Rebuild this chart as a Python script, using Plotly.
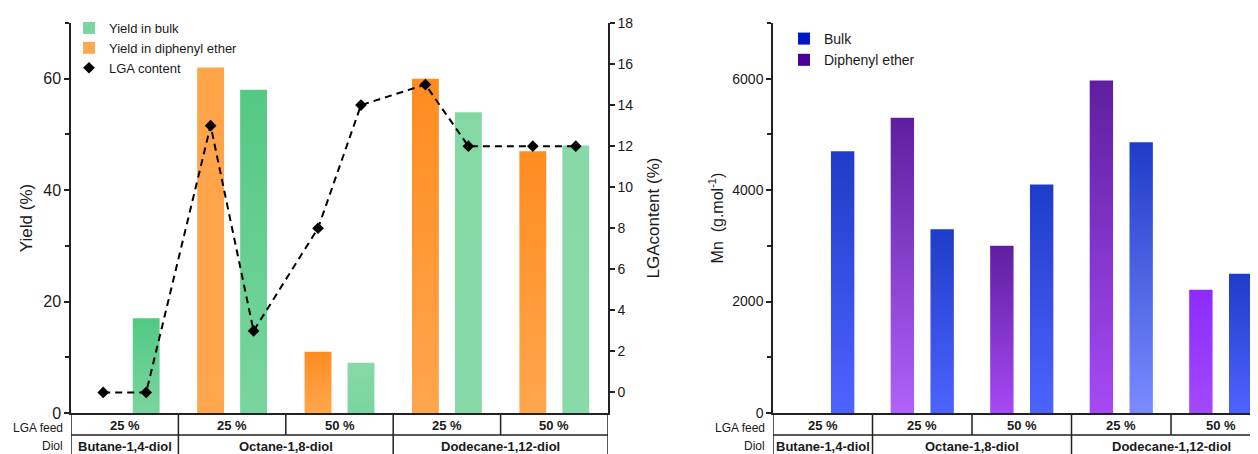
import plotly.graph_objects as go

# ---------------- data ----------------
lga_feed = ['25 %', '25 %', '50 %', '25 %', '50 %']
diols = ['Butane-1,4-diol', 'Octane-1,8-diol', 'Dodecane-1,12-diol']
diol_columns = [1, 2, 2]          # number of LGA-feed columns covered by each diol

yield_bulk = [17, 58, 9, 54, 48]
yield_diphenyl = [None, 62, 11, 60, 47]
# LGA content for each (diphenyl ether, bulk) pair of every column
lga_content = [0, 0, 13, 3, 8, 14, 15, 12, 12, 12]

mn_bulk = [4700, 3300, 4100, 4860, 2500]
mn_diphenyl = [None, 5300, 3000, 5970, 2210]

# ---------------- styles ----------------
FONT = 'Liberation Sans, Arial, sans-serif'
INK = '#1a1a1a'
LINE = '#222222'
PAGE_W, PAGE_H = 1258, 454
BODY = 8                               # browser body margin around the figure
W, H = PAGE_W - BODY, PAGE_H - BODY


def px(x):   # page pixel -> paper x
    return (x - BODY) / W


def py(y):   # page pixel -> paper y
    return (PAGE_H - y) / H


green_top = ['#52c983', '#53c983', '#86d9a6', '#84d8a4', '#87d9a7']
green_bot = ['#7ad59f', '#79d59e', '#7bd59f', '#86d9a6', '#88daa8']
orange_top = [None, '#ffa347', '#ff8c1f', '#ff8c1f', '#ff8c1f']
orange_bot = [None, '#ffa64e', '#ffa64d', '#ffa64d', '#ffa64d']
blue_top = ['#1f3cc8', '#1f3cc8', '#1f3cc8', '#1f3cc8', '#1f3cc8']
blue_bot = ['#4d63ff', '#4d63ff', '#4d63ff', '#7b8bff', '#4d63ff']
purple_top = [None, '#5e1f9e', '#5e1f9e', '#5e1f9e', '#8c2bff']
purple_bot = [None, '#b062f9', '#a649f5', '#a64af7', '#a448fd']

SLOT = 0.2          # offset of the two bars from the column centre
BAR_W_LEFT = 0.25
BAR_W_RIGHT = 0.235

X_L0, X_L1 = px(71), px(608)
X_R0, X_R1 = px(773), 1.0
Y0, Y1 = py(413), py(23)
Y_SEP = py(435)
Y_ROW1 = py(425)
Y_ROW2 = py(446)

fig = go.Figure()


def add_bars(values, offset, width, tops, bots, xa, ya, name):
    for i, v in enumerate(values):
        if v is None:
            continue
        c = i + offset
        x0, x1 = c - width / 2, c + width / 2
        fig.add_trace(go.Scatter(
            x=[x0, x0, x1, x1, x0], y=[0, v, v, 0, 0],
            mode='none', fill='toself', fillcolor=bots[i],
            fillgradient=dict(type='vertical', start=0, stop=v,
                              colorscale=[[0, bots[i]], [1, tops[i]]]),
            xaxis=xa, yaxis=ya, name=name, showlegend=False,
            hoveron='fills', hoverinfo='name'))


# legend entries (left chart)
fig.add_trace(go.Bar(x=[None], y=[None], name='Yield in bulk', marker_color='#79d69e',
                     xaxis='x', yaxis='y', legend='legend'))
fig.add_trace(go.Bar(x=[None], y=[None], name='Yield in diphenyl ether', marker_color='#ffa852',
                     xaxis='x', yaxis='y', legend='legend'))

add_bars(yield_diphenyl, -SLOT, BAR_W_LEFT, orange_top, orange_bot, 'x', 'y', 'Yield in diphenyl ether')
add_bars(yield_bulk, SLOT, BAR_W_LEFT, green_top, green_bot, 'x', 'y', 'Yield in bulk')

slot_x = [i + s for i in range(len(lga_feed)) for s in (-SLOT, SLOT)]
fig.add_trace(go.Scatter(x=slot_x, y=lga_content, mode='lines',
                         line=dict(color='black', width=2, dash='7px,5px'),
                         xaxis='x', yaxis='y2', showlegend=False, hoverinfo='skip'))
fig.add_trace(go.Scatter(x=slot_x, y=lga_content, mode='markers', name='LGA content',
                         marker=dict(symbol='diamond', size=9, color='black'),
                         xaxis='x', yaxis='y2', legend='legend'))

# right chart
fig.add_trace(go.Bar(x=[None], y=[None], name='Bulk', marker_color='#0019c4',
                     xaxis='x2', yaxis='y3', legend='legend2'))
fig.add_trace(go.Bar(x=[None], y=[None], name='Diphenyl ether', marker_color='#4b0096',
                     xaxis='x2', yaxis='y3', legend='legend2'))
add_bars(mn_diphenyl, -SLOT, BAR_W_RIGHT, purple_top, purple_bot, 'x2', 'y3', 'Diphenyl ether')
add_bars(mn_bulk, SLOT, BAR_W_RIGHT, blue_top, blue_bot, 'x2', 'y3', 'Bulk')

# ---------------- axes ----------------
n_col = len(lga_feed)
common_x = dict(showline=True, linecolor=LINE, linewidth=1.5, showgrid=False, zeroline=False,
                showticklabels=False, ticks='', fixedrange=True, automargin=False)
common_y = dict(showline=True, linecolor=LINE, linewidth=1.5, showgrid=False, zeroline=False,
                ticks='outside', ticklen=5, tickwidth=1.5, tickcolor=LINE, automargin=False,
                domain=[Y0, Y1])

fig.update_layout(
    xaxis=dict(domain=[X_L0, X_L1], range=[-0.5, n_col - 0.5], anchor='y', **common_x),
    yaxis=dict(range=[0, 70], tickvals=[0, 20, 40, 60], anchor='x',
               minor=dict(tickvals=[10, 30, 50, 70], ticks='outside', ticklen=4, tickwidth=1.5, tickcolor=LINE),
               tickfont=dict(size=16, color=INK, family=FONT),
               title=dict(text='Yield (%)', font=dict(size=17, color=INK, family=FONT), standoff=6),
               **common_y),
    yaxis2=dict(range=[-1, 18], tickvals=list(range(0, 19, 2)), anchor='x', overlaying='y', side='right',
                tickfont=dict(size=14, color=INK, family=FONT),
                title=dict(text='LGAcontent (%)', font=dict(size=17, color=INK, family=FONT), standoff=15),
                **common_y),
    xaxis2=dict(domain=[X_R0, X_R1], range=[-0.5, 4.374], anchor='y3', **common_x),
    yaxis3=dict(range=[0, 7000], tickvals=[0, 2000, 4000, 6000], anchor='x2',
                minor=dict(tickvals=[1000, 3000, 5000, 7000], ticks='outside', ticklen=4, tickwidth=1.5, tickcolor=LINE),
                tickfont=dict(size=14, color=INK, family=FONT),
                title=dict(text='Mn  (g.mol<sup>-1</sup>)', font=dict(size=16, color=INK, family=FONT), standoff=5),
                **common_y),
)

# ---------------- table under each chart ----------------
shapes = []
annotations = []
col_bounds = [i - 0.5 for i in range(n_col + 1)]
diol_bounds = [-0.5]
for span in diol_columns:
    diol_bounds.append(diol_bounds[-1] + span)

for xa, x_left in (('x', 71), ('x2', 773)):
    shapes.append(dict(type='line', xref=xa, yref='paper', x0=col_bounds[0], x1=col_bounds[-1],
                       y0=Y_SEP, y1=Y_SEP, line=dict(color=LINE, width=1.5)))
    for b in col_bounds:
        shapes.append(dict(type='line', xref=xa, yref='paper', x0=b, x1=b, y0=Y_SEP, y1=Y0,
                           line=dict(color=LINE, width=1.5)))
    for b in diol_bounds:
        shapes.append(dict(type='line', xref=xa, yref='paper', x0=b, x1=b, y0=-0.02, y1=Y_SEP,
                           line=dict(color=LINE, width=1.5)))
    for label, yy in (('LGA feed', py(427.5)), ('Diol', Y_ROW2)):
        annotations.append(dict(text=label, xref='paper', yref='paper', x=px(x_left - 6), y=yy,
                                xanchor='right', yanchor='middle', showarrow=False,
                                font=dict(size=12, color=INK, family=FONT)))
    for i, feed in enumerate(lga_feed):
        annotations.append(dict(text='<b>' + feed + '</b>', xref=xa, yref='paper', x=i, y=Y_ROW1,
                                xanchor='center', yanchor='middle', showarrow=False,
                                font=dict(size=13, color=INK, family=FONT)))
    for k, d in enumerate(diols):
        centre = (diol_bounds[k] + diol_bounds[k + 1]) / 2
        annotations.append(dict(text='<b>' + d + '</b>', xref=xa, yref='paper', x=centre, y=Y_ROW2,
                                xanchor='center', yanchor='middle', showarrow=False,
                                font=dict(size=13, color=INK, family=FONT)))

fig.update_layout(
    template='none',
    width=W, height=H,
    margin=dict(l=0, r=0, t=0, b=0, autoexpand=False),
    paper_bgcolor='white', plot_bgcolor='white',
    font=dict(family=FONT, color=INK),
    shapes=shapes, annotations=annotations,
    legend=dict(x=px(69), y=py(13), xanchor='left', yanchor='top',
                bgcolor='rgba(0,0,0,0)', font=dict(size=13, color=INK, family=FONT),
                tracegroupgap=0, itemclick=False),
    legend2=dict(x=px(784), y=py(23), xanchor='left', yanchor='top',
                 bgcolor='rgba(0,0,0,0)', font=dict(size=14, color=INK, family=FONT),
                 tracegroupgap=0, itemclick=False),
    showlegend=True,
)

fig.write_html('out.html')
